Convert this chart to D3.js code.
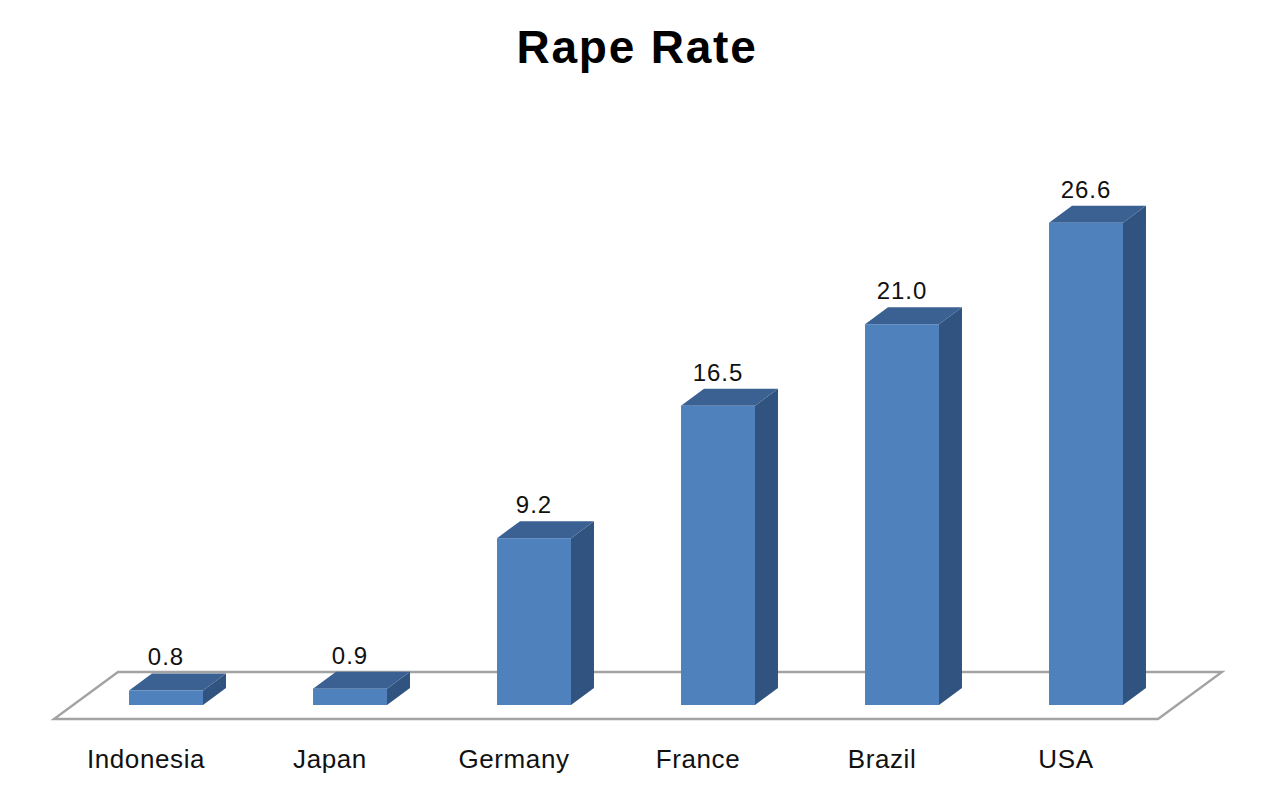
<!DOCTYPE html>
<html>
<head>
<meta charset="utf-8">
<script src="https://cdn.jsdelivr.net/npm/d3@7"></script>
<style>
  body { margin: 0; background: #fff; }
  text { font-family: "Liberation Sans", Arial, sans-serif; }
</style>
</head>
<body>
<div id="chart"></div>
<script>
const countries = ["Indonesia", "Japan", "Germany", "France", "Brazil", "USA"];
const rates = [0.8, 0.9, 9.2, 16.5, 21.0, 26.6];
const chartTitle = "Rape Rate";

const width = 1280, height = 798;
const margin = { top: 161, right: 102, bottom: 93, left: 74 };
const baseY = height - margin.bottom;   // front bottom of the bars

// 3d offsets
const barDepth = { dx: 23, dy: -17 };
const floorDepth = { dx: 64, dy: -47 };

const svg = d3.select("#chart")
    .append("svg")
    .attr("width", width)
    .attr("height", height);

const x = d3.scaleBand()
    .domain(countries)
    .range([margin.left, width - margin.right])
    .paddingInner(0.598)
    .paddingOuter(0.299);

const y = d3.scaleLinear()
    .domain([0, 30])
    .range([baseY, margin.top]);

// floor
const fx0 = margin.left - 20, fx1 = width - margin.right - 20, fy = baseY + 14;
svg.append("path")
    .attr("d", `M${fx0},${fy} L${fx1},${fy} L${fx1 + floorDepth.dx},${fy + floorDepth.dy} L${fx0 + floorDepth.dx},${fy + floorDepth.dy} Z`)
    .attr("fill", "#fff")
    .attr("stroke", "#a3a3a3")
    .attr("stroke-width", 2.4);

const data = countries.map((c, i) => ({ key: c, value: rates[i] }));
const bw = x.bandwidth();

const bars = svg.selectAll(".bar")
    .data(data)
    .enter()
    .append("g")
    .attr("class", "bar");

// side face
bars.append("path")
    .attr("d", d => {
        const x1 = x(d.key) + bw, yt = y(d.value);
        return `M${x1},${baseY} L${x1},${yt} L${x1 + barDepth.dx},${yt + barDepth.dy} L${x1 + barDepth.dx},${baseY + barDepth.dy} Z`;
    })
    .attr("fill", "#31537f");

// top face
bars.append("path")
    .attr("d", d => {
        const x0 = x(d.key), x1 = x0 + bw, yt = y(d.value);
        return `M${x0},${yt} L${x1},${yt} L${x1 + barDepth.dx},${yt + barDepth.dy} L${x0 + barDepth.dx},${yt + barDepth.dy} Z`;
    })
    .attr("fill", "#3b6192");

// front face
bars.append("rect")
    .attr("x", d => x(d.key))
    .attr("y", d => y(d.value))
    .attr("width", bw)
    .attr("height", d => baseY - y(d.value))
    .attr("fill", "#4f81bd");

// value labels
bars.append("text")
    .attr("x", d => x(d.key) + bw / 2)
    .attr("y", d => y(d.value) + barDepth.dy - 8)
    .attr("text-anchor", "middle")
    .style("font-size", "24px")
    .style("letter-spacing", "1px")
    .style("fill", "#111")
    .text(d => d.value.toFixed(1));

// category labels
svg.append("g")
    .selectAll("text")
    .data(countries)
    .enter()
    .append("text")
    .attr("x", d => x(d) + bw / 2 - 20)
    .attr("y", baseY + 63)
    .attr("text-anchor", "middle")
    .style("font-size", "26px")
    .style("letter-spacing", "0.6px")
    .style("fill", "#111")
    .text(d => d);

// title
svg.append("text")
    .attr("x", 637)
    .attr("y", 63)
    .attr("text-anchor", "middle")
    .style("font-size", "46px")
    .style("font-weight", "bold")
    .style("letter-spacing", "1.8px")
    .style("fill", "#000")
    .text(chartTitle);
</script>
</body>
</html>
